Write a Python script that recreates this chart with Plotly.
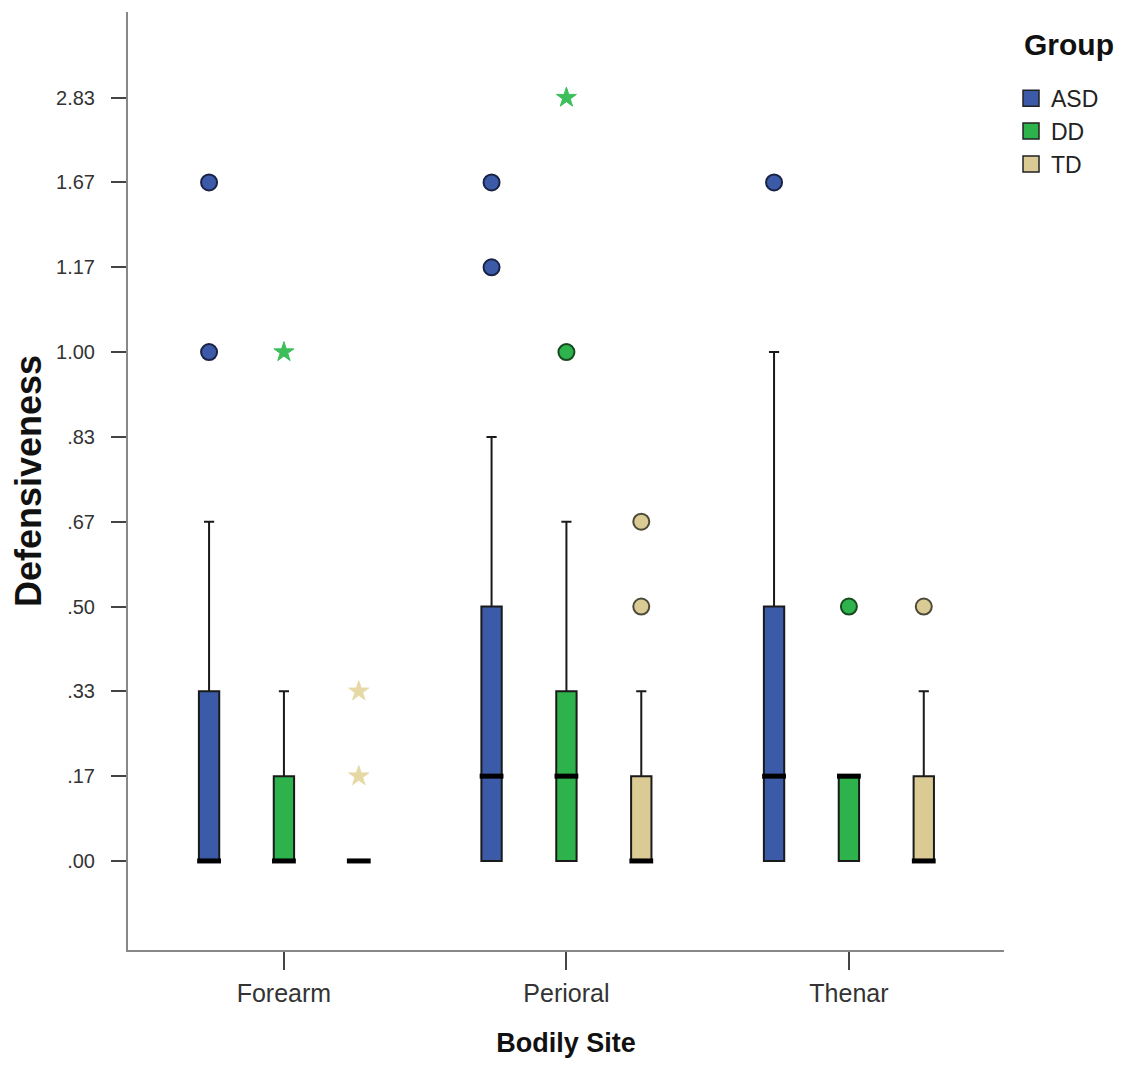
import plotly.graph_objects as go

# ---------------- data ----------------
sites = ["Forearm", "Perioral", "Thenar"]
groups = ["ASD", "DD", "TD"]
# ordinal tick levels of the SPSS axis (evenly spaced)
levels = [".00", ".17", ".33", ".50", ".67", ".83", "1.00", "1.17", "1.67", "2.83"]

asd_q1 = [".00", ".00", ".00"]
asd_median = [".00", ".17", ".17"]
asd_q3 = [".33", ".50", ".50"]
asd_low = [".00", ".00", ".00"]
asd_high = [".67", ".83", "1.00"]

dd_q1 = [".00", ".00", ".00"]
dd_median = [".00", ".17", ".17"]
dd_q3 = [".17", ".33", ".17"]
dd_low = [".00", ".00", ".00"]
dd_high = [".33", ".67", ".17"]

td_q1 = [".00", ".00", ".00"]
td_median = [".00", ".00", ".00"]
td_q3 = [".00", ".17", ".17"]
td_low = [".00", ".00", ".00"]
td_high = [".00", ".33", ".33"]

# outliers (circles) and extremes (stars): (site, value)
asd_outliers = [("Forearm", "1.00"), ("Forearm", "1.67"), ("Perioral", "1.17"),
                ("Perioral", "1.67"), ("Thenar", "1.67")]
dd_outliers = [("Perioral", "1.00"), ("Thenar", ".50")]
td_outliers = [("Perioral", ".50"), ("Perioral", ".67"), ("Thenar", ".50")]
asd_extremes = []
dd_extremes = [("Forearm", "1.00"), ("Perioral", "2.83")]
td_extremes = [("Forearm", ".17"), ("Forearm", ".33")]

colors = {"ASD": "#3b5ba8", "DD": "#2eb34c", "TD": "#dacb95"}
star_colors = {"ASD": "#3b5ba8", "DD": "#3cbf5a", "TD": "#e6d9a6"}
outline = {"ASD": "#1a2346", "DD": "#17491f", "TD": "#4d4a3a"}
offsets = {"ASD": -0.265, "DD": 0.0, "TD": 0.265}

stats = {
    "ASD": (asd_q1, asd_median, asd_q3, asd_low, asd_high, asd_outliers, asd_extremes),
    "DD": (dd_q1, dd_median, dd_q3, dd_low, dd_high, dd_outliers, dd_extremes),
    "TD": (td_q1, td_median, td_q3, td_low, td_high, td_outliers, td_extremes),
}


def lv(v):
    return levels.index(v)


fig = go.Figure()
BOXW = 0.072

for g in groups:
    q1, med, q3, lo, hi, outs, exts = stats[g]
    xs = [i + offsets[g] for i in range(len(sites))]
    fig.add_trace(go.Box(
        x=xs,
        q1=[lv(v) for v in q1],
        median=[lv(v) for v in med],
        q3=[lv(v) for v in q3],
        lowerfence=[lv(v) for v in lo],
        upperfence=[lv(v) for v in hi],
        width=BOXW,
        whiskerwidth=0.5,
        fillcolor=colors[g],
        line=dict(color="#1a1a1a", width=2),
        boxpoints=False,
        showlegend=False,
        hoverinfo="skip",
        name=g,
    ))
    # thick median bars
    fig.add_trace(go.Scatter(
        x=xs, y=[lv(v) for v in med], mode="markers",
        marker=dict(symbol="line-ew", size=17, line=dict(color="black", width=5)),
        showlegend=False, hoverinfo="skip",
    ))
    if outs:
        fig.add_trace(go.Scatter(
            x=[sites.index(s) + offsets[g] for s, _ in outs],
            y=[lv(v) for _, v in outs], mode="markers",
            marker=dict(symbol="circle", size=16, color=colors[g],
                        line=dict(color=outline[g], width=2)),
            showlegend=False, hoverinfo="skip",
        ))
    if exts:
        fig.add_trace(go.Scatter(
            x=[sites.index(s) + offsets[g] for s, _ in exts],
            y=[lv(v) for _, v in exts], mode="markers",
            marker=dict(symbol="star", size=15, color=star_colors[g],
                        line=dict(color=star_colors[g], width=1)),
            showlegend=False, hoverinfo="skip",
        ))

# legend entries
for g in groups:
    fig.add_trace(go.Scatter(
        x=[None], y=[None], mode="markers", name=g,
        marker=dict(symbol="square", size=16, color=colors[g],
                    line=dict(color="#222222", width=1.5)),
    ))

NARROW = "Liberation Sans Narrow, Arial Narrow, Liberation Sans, sans-serif"

fig.update_layout(
    width=1129, height=1068,
    margin=dict(l=120, r=133, t=4, b=126),
    paper_bgcolor="white", plot_bgcolor="white",
    font=dict(family="Liberation Sans, Arial, sans-serif", color="#222222"),
    boxmode="overlay",
    legend=dict(
        font=dict(size=23, color="#222222"),
        x=1.008, xanchor="left", y=0.931, yanchor="top",
        bgcolor="rgba(0,0,0,0)", itemclick=False,
    ),
    annotations=[dict(
        text="<b>Group</b>", xref="paper", yref="paper",
        x=1.0205, y=0.965, xanchor="left", yanchor="middle",
        showarrow=False, font=dict(size=30, color="#111111"),
    )],
    xaxis=dict(
        range=[-0.552, 2.549],
        tickmode="array", tickvals=list(range(len(sites))), ticktext=sites,
        ticks="outside", ticklen=18, tickwidth=2, tickcolor="#444444",
        showline=True, linecolor="#888888", linewidth=2,
        showgrid=False, zeroline=False,
        tickfont=dict(size=25, color="#333333"),
        ticklabelstandoff=2,
        title=dict(text="<b>Bodily Site</b>",
                   font=dict(family=NARROW, size=27, color="#111111"),
                   standoff=27),
    ),
    yaxis=dict(
        range=[-1.05, 10.01],
        tickmode="array", tickvals=list(range(len(levels))), ticktext=levels,
        ticks="outside", ticklen=15, tickwidth=2, tickcolor="#444444",
        showline=True, linecolor="#888888", linewidth=2,
        showgrid=False, zeroline=False,
        tickfont=dict(size=20, color="#333333"),
        ticklabelstandoff=12,
        title=dict(text="<b>Defensiveness</b>",
                   font=dict(family=NARROW, size=36, color="#111111"),
                   standoff=4),
    ),
)

fig.write_html("out.html")
